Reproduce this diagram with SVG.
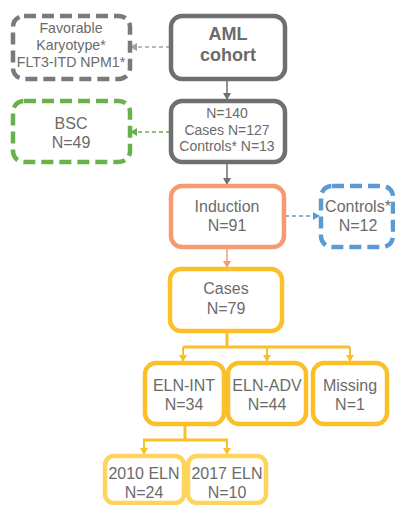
<svg xmlns="http://www.w3.org/2000/svg" width="395" height="505" viewBox="0 0 395 505">
<defs>
<style>
text{font-family:"Liberation Sans",Arial,sans-serif;fill:#6b6b6b;text-anchor:middle}
.s16{font-size:16px}
.s13{font-size:14.2px}
.s135{font-size:14px}
.b18{font-size:18px;font-weight:bold}
.box{fill:#fff;stroke-width:4.5}
.gray{stroke:#6f6f71}
.dgray{stroke:#7a7a7a;stroke-dasharray:12 6}
.green{stroke:#6ab04c;stroke-dasharray:12 6}
.blue{stroke:#5b9bd5;stroke-dasharray:12 6}
.orange{stroke:#f79a72}
.yellow{stroke:#fbbf2a}
.lyellow{stroke:#fdd45c}
.ln{fill:none;stroke-width:1.5}
</style>
<marker id="ag" markerWidth="8" markerHeight="8" refX="6" refY="4" orient="auto" markerUnits="userSpaceOnUse"><path d="M0,0 L7,4 L0,8 z" fill="#6f6f71"/></marker>
<marker id="agl" markerWidth="8" markerHeight="8" refX="6" refY="4" orient="auto" markerUnits="userSpaceOnUse"><path d="M0,0 L7,4 L0,8 z" fill="#a0a0a0"/></marker>
<marker id="agr" markerWidth="8" markerHeight="8" refX="6" refY="4" orient="auto" markerUnits="userSpaceOnUse"><path d="M0,0 L7,4 L0,8 z" fill="#6ab04c"/></marker>
<marker id="ab" markerWidth="8" markerHeight="8" refX="6" refY="4" orient="auto" markerUnits="userSpaceOnUse"><path d="M0,0 L7,4 L0,8 z" fill="#5b9bd5"/></marker>
<marker id="ao" markerWidth="8" markerHeight="8" refX="6" refY="4" orient="auto" markerUnits="userSpaceOnUse"><path d="M0,0 L7,4 L0,8 z" fill="#f79a72"/></marker>
<marker id="ay" markerWidth="8" markerHeight="8" refX="6" refY="4" orient="auto" markerUnits="userSpaceOnUse"><path d="M0,0 L7,4 L0,8 z" fill="#fbbf2a"/></marker>
</defs>
<g id="connectors">
<line class="ln" x1="227" y1="80" x2="227" y2="99" stroke="#6f6f71" marker-end="url(#ag)"/>
<line class="ln" x1="227" y1="163" x2="227" y2="184" stroke="#6f6f71" marker-end="url(#ag)"/>
<line class="ln" x1="170" y1="47" x2="131" y2="47" stroke="#a0a0a0" stroke-dasharray="4 3" marker-end="url(#agl)"/>
<line class="ln" x1="170" y1="132" x2="131" y2="132" stroke="#6ab04c" stroke-dasharray="4 3" marker-end="url(#agr)"/>
<line class="ln" x1="285" y1="216" x2="319" y2="216" stroke="#5b9bd5" stroke-dasharray="4 3" marker-end="url(#ab)"/>
<line class="ln" x1="227" y1="248" x2="227" y2="267" stroke="#f79a72" marker-end="url(#ao)"/>
<g stroke="#fbbf2a" fill="none" stroke-width="3">
<path d="M227,332 V347 M183,347 H350"/>
<path d="M143,440 H228 M185,425 V440"/>
</g>
<g stroke="#fbbf2a" stroke-width="2" fill="none">
<line x1="183" y1="347" x2="183" y2="361" marker-end="url(#ay)"/>
<line x1="267" y1="347" x2="267" y2="361" marker-end="url(#ay)"/>
<line x1="350" y1="347" x2="350" y2="361" marker-end="url(#ay)"/>
<line x1="144" y1="440" x2="144" y2="454" marker-end="url(#ay)"/>
<line x1="227" y1="440" x2="227" y2="454" marker-end="url(#ay)"/>
</g>
</g>
<g id="favorable"><rect class="box dgray" x="13" y="16" width="117" height="63" rx="11"/>
<text class="s13" x="71" y="33">Favorable</text><text class="s13" x="71" y="50">Karyotype*</text><text class="s13" x="71" y="67">FLT3-ITD NPM1*</text></g>
<g id="aml"><rect class="box gray" x="171" y="16" width="114" height="63" rx="11" stroke-width="5"/>
<text class="b18" x="228" y="40">AML</text><text class="b18" x="228" y="61">cohort</text></g>
<g id="bsc"><rect class="box green" x="13" y="101" width="117" height="61" rx="11"/>
<text class="s16" x="71" y="129">BSC</text><text class="s16" x="71" y="148">N=49</text></g>
<g id="total"><rect class="box gray" x="171" y="101" width="114" height="61" rx="11" stroke-width="5"/>
<text class="s135" x="227" y="118">N=140</text><text class="s135" x="227" y="135">Cases N=127</text><text class="s135" x="227" y="151">Controls* N=13</text></g>
<g id="induction"><rect class="box orange" x="171" y="186" width="113" height="61" rx="11"/>
<text class="s16" x="227" y="212">Induction</text><text class="s16" x="227" y="231">N=91</text></g>
<g id="controls"><rect class="box blue" x="321" y="186" width="72" height="61" rx="11"/>
<text class="s16" x="358" y="212">Controls*</text><text class="s16" x="358" y="231">N=12</text></g>
<g id="cases"><rect class="box yellow" x="170" y="269" width="112" height="62" rx="11"/>
<text class="s16" x="226" y="294">Cases</text><text class="s16" x="226" y="314">N=79</text></g>
<g id="elnint"><rect class="box yellow" x="145" y="363" width="79" height="61" rx="11"/>
<text class="s16" x="184" y="391">ELN-INT</text><text class="s16" x="184" y="410">N=34</text></g>
<g id="elnadv"><rect class="box yellow" x="228" y="363" width="78" height="61" rx="11"/>
<text class="s16" x="267" y="391">ELN-ADV</text><text class="s16" x="267" y="410">N=44</text></g>
<g id="missing"><rect class="box yellow" x="313" y="363" width="74" height="61" rx="11"/>
<text class="s16" x="350" y="391">Missing</text><text class="s16" x="350" y="410">N=1</text></g>
<g id="eln2010"><rect class="box lyellow" x="105" y="456" width="79" height="47" rx="9"/>
<text class="s16" x="144" y="479">2010 ELN</text><text class="s16" x="144" y="498">N=24</text></g>
<g id="eln2017"><rect class="box lyellow" x="188" y="456" width="78" height="47" rx="9"/>
<text class="s16" x="227" y="479">2017 ELN</text><text class="s16" x="227" y="498">N=10</text></g>
</svg>
